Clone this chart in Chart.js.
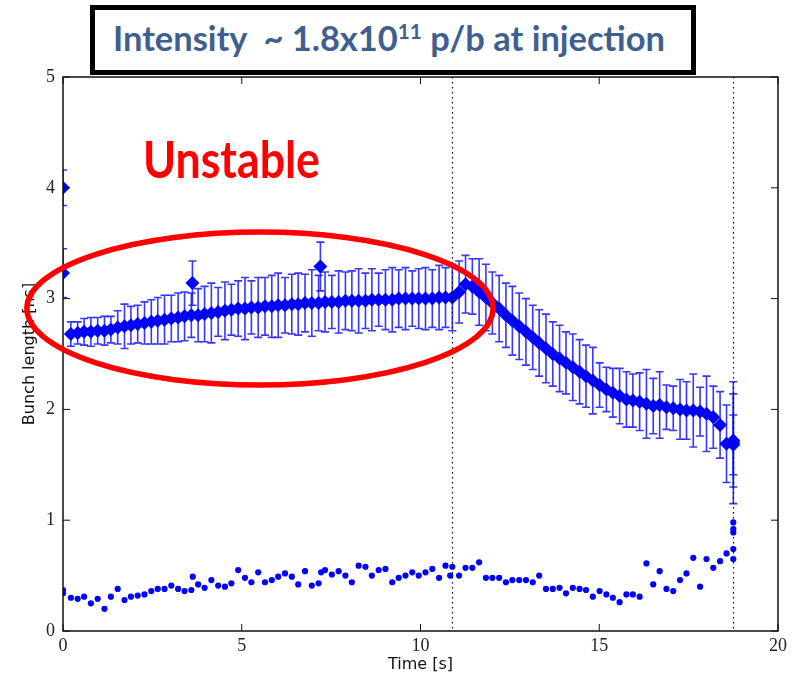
<!DOCTYPE html>
<html>
<head>
<meta charset="utf-8">
<title>Bunch length vs time</title>
<script src="https://cdn.jsdelivr.net/npm/chart.js"></script>
<style>
  body { margin: 0; background: #fff; }
  #wrap { position: relative; width: 793px; height: 676px; }
  #titleBox {
    position: absolute; left: 90px; top: 5px; width: 596px; height: 60px;
    border: 5px solid #000; background: #fff; z-index: 2;
  }
  .fit { position: absolute; white-space: pre; font-family: Lato, "Open Sans", sans-serif; font-weight: bold; transform-origin: 0 0; }
  #titleText { color: #3f5f90; font-size: 35px; left: 18px; top: 6px; }
  #titleText sup { font-size: 21px; vertical-align: 0; position: relative; top: -12px; }
  #unstable { color: #ff0000; font-size: 51px; left: 143px; top: 128px; z-index: 2; }
</style>
</head>
<body>
<div id="wrap">
  <canvas id="bunch_chart" width="793" height="676"></canvas>
  <div id="titleBox"><span id="titleText" class="fit">Intensity  ~ 1.8x10<sup>11</sup> p/b at injection</span></div>
  <span id="unstable" class="fit">Unstable</span>
</div>

<script>
// grid of acquisition times [s]
const mainTime = [0.22,0.41,0.59,0.78,0.97,1.16,1.34,1.53,1.72,1.90,2.09,2.28,2.47,2.65,2.84,3.03,3.22,3.40,3.59,
  3.78,3.96,4.15,4.34,4.53,4.71,4.90,5.09,5.27,5.46,5.65,5.84,6.02,6.21,6.40,6.58,6.77,6.96,
  7.15,7.33,7.52,7.71,7.90,8.08,8.27,8.46,8.64,8.83,9.02,9.21,9.39,9.58,9.77,9.95,10.14,10.33,10.52,10.70,
  10.89,11.08,11.26,11.45,11.64,11.83,12.01,12.20,12.39,12.57,12.76,12.95,13.14,13.32,13.51,13.70,13.89,
  14.07,14.26,14.45,14.63,14.82,15.01,15.20,15.38,15.57,15.76,15.94,16.13,16.32,16.51,16.69,16.88,17.07,
  17.26,17.44,17.63,17.82,18.00,18.19,18.38,18.56,18.75,
  0, 0, 3.62, 7.20, 18.75, 18.75];
// bunch length [ns]
const mainLength = [2.68,2.69,2.70,2.70,2.71,2.71,2.72,2.74,2.75,2.76,2.77,2.78,2.79,2.80,2.81,2.82,2.83,2.84,2.85,
  2.85,2.86,2.87,2.88,2.89,2.90,2.91,2.91,2.92,2.92,2.93,2.93,2.94,2.94,2.95,2.95,2.96,2.96,
  2.96,2.97,2.97,2.97,2.98,2.98,2.98,2.98,2.99,2.99,2.99,2.99,3.00,3.00,3.00,3.00,3.00,3.00,3.01,3.01,
  3.01,3.06,3.13,3.11,3.06,3.01,2.96,2.91,2.85,2.80,2.75,2.70,2.65,2.60,2.55,2.50,2.46,
  2.42,2.38,2.34,2.30,2.26,2.22,2.18,2.15,2.12,2.09,2.08,2.07,2.05,2.03,2.04,2.02,2.01,
  2.00,1.99,1.99,1.98,1.96,1.93,1.86,1.69,1.70,
  4.00, 3.23, 3.14, 3.29, 1.72, 1.68];
// error bar half height [ns]
const mainErr = [0.11,0.10,0.12,0.13,0.12,0.13,0.12,0.15,0.20,0.17,0.17,0.19,0.20,0.21,0.22,0.21,0.22,0.22,0.20,
  0.24,0.25,0.27,0.22,0.26,0.23,0.25,0.28,0.24,0.27,0.26,0.28,0.29,0.25,0.27,0.28,0.26,0.30,
  0.25,0.27,0.24,0.28,0.26,0.27,0.29,0.25,0.28,0.24,0.27,0.29,0.26,0.28,0.25,0.27,0.28,0.26,0.29,0.27,
  0.30,0.28,0.26,0.25,0.30,0.30,0.28,0.30,0.29,0.31,0.30,0.30,0.29,0.30,0.31,0.29,0.30,
  0.28,0.30,0.29,0.28,0.30,0.20,0.20,0.22,0.25,0.25,0.24,0.26,0.31,0.25,0.30,0.20,0.20,
  0.27,0.26,0.33,0.22,0.34,0.28,0.30,0.35,0.55,
  0.16, 0.22, 0.20, 0.22, 0.42, 0.27];

// second quantity, small dots
const dotTime = [0, 0, 0.22,0.41,0.59,0.78,0.97,1.16,1.34,1.53,1.72,1.90,2.09,2.28,2.47,2.65,2.84,3.03,3.22,3.40,3.59,3.63,
  3.78,3.96,4.15,4.34,4.53,4.71,4.90,5.09,5.27,5.46,5.65,5.84,6.02,6.21,6.40,6.58,6.77,6.96,
  7.15,7.22,7.33,7.52,7.71,7.90,8.08,8.27,8.46,8.64,8.83,9.02,9.21,9.39,9.58,9.77,9.95,10.14,10.33,10.52,10.70,
  10.83,10.89,11.08,11.26,11.45,11.64,11.83,12.01,12.20,12.39,12.57,12.76,12.95,13.14,13.32,13.51,13.70,13.89,
  14.07,14.26,14.45,14.63,14.82,15.01,15.20,15.38,15.57,15.76,15.94,16.13,16.32,16.51,16.69,16.88,17.07,
  17.26,17.44,17.63,17.82,18.00,18.19,18.38,18.56,18.75,18.75,18.75,18.75,18.75];
const dotValue = [0.37, 0.34, 0.30,0.29,0.31,0.25,0.29,0.20,0.31,0.38,0.28,0.31,0.32,0.33,0.36,0.38,0.38,0.41,0.38,0.36,0.37,0.49,
  0.42,0.39,0.46,0.41,0.40,0.43,0.55,0.48,0.44,0.53,0.44,0.46,0.49,0.52,0.49,0.42,0.54,0.41,
  0.43,0.53,0.55,0.51,0.54,0.50,0.44,0.59,0.58,0.50,0.55,0.56,0.44,0.48,0.50,0.53,0.50,0.53,0.56,0.48,0.59,
  0.50,0.58,0.50,0.57,0.57,0.62,0.48,0.48,0.48,0.44,0.46,0.46,0.46,0.44,0.50,0.38,0.38,0.39,
  0.34,0.39,0.38,0.37,0.31,0.36,0.33,0.30,0.26,0.33,0.33,0.31,0.61,0.42,0.54,0.38,0.36,
  0.46,0.52,0.66,0.40,0.65,0.57,0.63,0.70,0.74,0.65,0.98,0.92,0.89];

const markerTimes = [10.88, 18.74];
const xTicks = [0, 5, 10, 15, 20];
const yTicks = [0, 1, 2, 3, 4, 5];
// highlighted region (centre t, centre length, half width, half height)
const ellipseRegion = [5.51, 2.91, 6.52, 0.69];

const blue = '#0000ff';

const errorBars = {
  id: 'errorBars',
  beforeDatasetsDraw(chart) {
    const {ctx, chartArea: a, scales: {x, y}} = chart;
    ctx.save();
    ctx.beginPath();
    ctx.rect(a.left, a.top, a.right - a.left, a.bottom - a.top);
    ctx.clip();
    ctx.strokeStyle = 'rgba(20,20,255,0.85)';
    ctx.lineWidth = 1.6;
    mainTime.forEach((t, i) => {
      const px = x.getPixelForValue(t);
      const top = y.getPixelForValue(mainLength[i] + mainErr[i]);
      const bot = y.getPixelForValue(mainLength[i] - mainErr[i]);
      ctx.beginPath();
      ctx.moveTo(px, top); ctx.lineTo(px, bot);
      ctx.moveTo(px - 4, top); ctx.lineTo(px + 4, top);
      ctx.moveTo(px - 4, bot); ctx.lineTo(px + 4, bot);
      ctx.stroke();
    });
    ctx.restore();
  }
};

const frameAndMarks = {
  id: 'frameAndMarks',
  afterDatasetsDraw(chart) {
    const {ctx, chartArea: a, scales: {x, y}} = chart;
    ctx.save();
    // dotted vertical lines
    ctx.strokeStyle = '#000';
    ctx.lineWidth = 1.2;
    ctx.setLineDash([1.5, 3.5]);
    markerTimes.forEach(t => {
      const px = Math.round(x.getPixelForValue(t)) + 0.5;
      ctx.beginPath(); ctx.moveTo(px, a.top); ctx.lineTo(px, a.bottom); ctx.stroke();
    });
    ctx.setLineDash([]);
    // frame
    ctx.lineWidth = 1.5;
    ctx.strokeStyle = '#111';
    ctx.strokeRect(a.left, a.top, a.right - a.left, a.bottom - a.top);
    // inward ticks
    ctx.lineWidth = 1;
    ctx.beginPath();
    xTicks.forEach(v => {
      const px = x.getPixelForValue(v);
      ctx.moveTo(px, a.bottom); ctx.lineTo(px, a.bottom - 7);
      ctx.moveTo(px, a.top); ctx.lineTo(px, a.top + 7);
    });
    yTicks.forEach(v => {
      const py = y.getPixelForValue(v);
      ctx.moveTo(a.left, py); ctx.lineTo(a.left + 7, py);
      ctx.moveTo(a.right, py); ctx.lineTo(a.right - 7, py);
    });
    ctx.stroke();
    ctx.restore();
  },
  afterDraw(chart) {
    const {ctx, scales: {x, y}} = chart;
    const [ct, cv, rt, rv] = ellipseRegion;
    const cx = x.getPixelForValue(ct), cy = y.getPixelForValue(cv);
    const rx = Math.abs(x.getPixelForValue(ct + rt) - cx);
    const ry = Math.abs(y.getPixelForValue(cv + rv) - cy);
    ctx.save();
    ctx.strokeStyle = '#ff0000';
    ctx.lineWidth = 5.5;
    ctx.beginPath();
    ctx.ellipse(cx, cy, rx, ry, 0, 0, Math.PI * 2);
    ctx.stroke();
    ctx.restore();
  }
};

const ctx = document.getElementById('bunch_chart').getContext('2d');
new Chart(ctx, {
  type: 'scatter',
  data: {
    datasets: [{
      label: 'dots',
      data: dotTime.map((t, i) => ({x: t, y: dotValue[i]})),
      pointStyle: 'circle',
      pointRadius: 3.1,
      pointBackgroundColor: blue,
      pointBorderWidth: 0,
      clip: 0
    }, {
      label: 'Bunch length',
      data: mainTime.map((t, i) => ({x: t, y: mainLength[i]})),
      pointStyle: 'rectRot',
      pointRadius: 7,
      pointBackgroundColor: blue,
      pointBorderColor: blue,
      pointBorderWidth: 0,
      clip: 0
    }]
  },
  options: {
    responsive: false,
    animation: false,
    layout: { padding: { top: 77, right: 15, left: 0, bottom: 0 } },
    plugins: { legend: { display: false }, tooltip: { enabled: false } },
    scales: {
      x: {
        type: 'linear', min: 0, max: 20,
        afterBuildTicks: s => { s.ticks = xTicks.map(v => ({value: v})); },
        afterFit: s => { s.height = 45; },
        grid: { display: false, drawTicks: false },
        border: { display: false },
        ticks: { padding: 4, color: '#222', font: { family: 'Liberation Serif', size: 18 } },
        title: { display: true, text: 'Time [s]', color: '#111', padding: { top: 0, bottom: 2 },
                 font: { family: 'DejaVu Sans', size: 16 } }
      },
      y: {
        type: 'linear', min: 0, max: 5,
        afterBuildTicks: s => { s.ticks = yTicks.map(v => ({value: v})); },
        afterFit: s => { s.width = 63; },
        grid: { display: false, drawTicks: false },
        border: { display: false },
        ticks: { padding: 8, color: '#222', font: { family: 'Liberation Serif', size: 18 } },
        title: { display: true, text: 'Bunch length [ns]', color: '#111', padding: { top: 20, bottom: 0 },
                 font: { family: 'DejaVu Sans', size: 16 } }
      }
    }
  },
  plugins: [errorBars, frameAndMarks]
});

// fit the overlay texts to the widths they take in the original slide
function fitText(id, target) {
  const el = document.getElementById(id);
  const w = el.getBoundingClientRect().width;
  if (w > 0) el.style.transform = 'scaleX(' + (target / w) + ')';
}
fitText('titleText', 552);
fitText('unstable', 177);
</script>
</body>
</html>
